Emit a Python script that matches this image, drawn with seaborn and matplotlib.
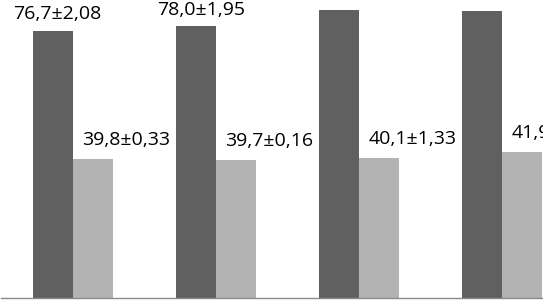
import pandas as pd
import matplotlib.pyplot as plt
import seaborn as sns

# values (comma decimals as in the original)
groups = ["1", "2", "3", "4"]
series = ["dark", "light"]
dark_values = [76.7, 78.0, 82.5, 82.3]
light_values = [39.8, 39.7, 40.1, 41.9]
# labels of bars 3 and 4 fall outside the cropped picture
dark_labels = ["76,7±2,08", "78,0±1,95", "", ""]
light_labels = ["39,8±0,33", "39,7±0,16", "40,1±1,33", "41,9±0,90"]

df = pd.DataFrame({
    "group": groups * 2,
    "series": [series[0]] * 4 + [series[1]] * 4,
    "value": dark_values + light_values,
})

sns.set_style("white")
plt.rcParams['font.family'] = ['Open Sans', 'DejaVu Sans']

fig = plt.figure(figsize=(5.43, 3.05), dpi=100)

# the picture is a crop of a larger chart, so the axes run past the figure
ax = fig.add_axes([1 / 543, 7 / 305, 573 / 543, 313.7 / 305])

sns.barplot(
    data=df, x="group", y="value", hue="series",
    palette=["#606060", "#b3b3b3"], saturation=1,
    width=0.56, legend=False, ax=ax, linewidth=0, edgecolor="none",
)

ax.set_ylim(0, 90)
ax.set_xlim(-0.5, 3.5)

# data labels, Excel style
for bars, labels, dx, dy in [
    (ax.containers[0], dark_labels, 5, 11.5),
    (ax.containers[1], light_labels, 33, 14),
]:
    for bar, text in zip(bars, labels):
        if not text:
            continue
        ax.annotate(
            text,
            (bar.get_x() + bar.get_width() / 2, bar.get_height()),
            xytext=(dx, dy), textcoords="offset pixels",
            ha="center", va="baseline", fontsize=14, color="black",
        )

for s in ["left", "top", "right"]:
    ax.spines[s].set_visible(False)
ax.spines["bottom"].set_color("#8a8a8a")
ax.spines["bottom"].set_linewidth(1)

ax.set_yticks([])
ax.set_xticks([-0.5, 0.5, 1.5, 2.5, 3.5])
ax.set_xticklabels([])
ax.tick_params(axis="x", length=5.5, width=1, color="#8a8a8a", direction="out")
ax.set_xlabel("")
ax.set_ylabel("")

fig.savefig("out.png", dpi=100)
